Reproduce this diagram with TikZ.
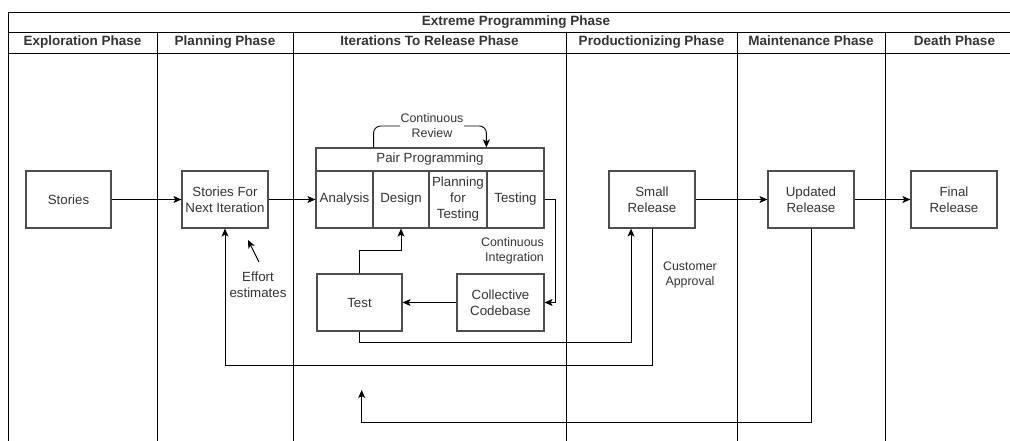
\documentclass[tikz,border=0pt]{standalone}
\usepackage{fontspec}
\setmainfont{Liberation Sans}
\usetikzlibrary{arrows.meta, calc}
\definecolor{txt}{HTML}{333333}
\definecolor{edge}{HTML}{4D4D4D}

\begin{document}
\begin{tikzpicture}[x=1pt, y=-1pt,
    box/.style={draw=edge, line width=1.2pt, text=txt, align=center, inner sep=1pt,
        font=\fontsize{13.3}{16}\selectfont},
    lbl/.style={text=txt, align=center, inner sep=1pt, font=\fontsize{12.4}{15}\selectfont},
    head/.style={text=txt, inner sep=1pt, text height=10pt, text depth=3pt,
        font=\bfseries\fontsize{13.5}{16}\selectfont},
    lane/.style={line width=0.9pt},
    arr/.style={-{Stealth[length=8pt,width=7pt,inset=2pt]}, line width=0.9pt}]
    \useasboundingbox (0,0) rectangle (1010,441);

    % Draw the lanes
    \draw[lane] (1010,12) -- (8,12) -- (8,441);
    \draw[lane] (8,32) -- (1010,32);
    \draw[lane] (8,53) -- (1010,53);
    \foreach \x in {157,293,566,737,885}
        \draw[lane] (\x,32) -- (\x,441);

    % Lane titles
    \node[head] (title) at (516,22) {Extreme Programming Phase};
    \foreach \x/\name/\txt in {82.5/hexplore/Exploration Phase, 225/hplan/Planning Phase,
        429.5/hiter/Iterations To Release Phase, 651.5/hprod/Productionizing Phase,
        811/hmaint/Maintenance Phase, 954.5/hdeath/Death Phase}
        \node[head] (\name) at (\x,42.5) {\txt};

    % Define the boxes
    \node[box, minimum width=85, minimum height=57] (stories) at (68.5,199.5) {Stories};
    \node[box, minimum width=86, minimum height=57] (next) at (225,199.5) {Stories For\\Next Iteration};
    \node[box, minimum width=86, minimum height=57] (small) at (652,199.5) {Small\\Release};
    \node[box, minimum width=86, minimum height=57] (updated) at (811,199.5) {Updated\\Release};
    \node[box, minimum width=86, minimum height=57] (final) at (954,199.5) {Final\\Release};
    \node[box, minimum width=85, minimum height=57] (test) at (359.5,302.5) {Test};
    \node[box, minimum width=87, minimum height=57] (collective) at (500.5,302.5) {Collective\\Codebase};

    % Pair programming table
    \node[box, minimum width=228, minimum height=23] (pair) at (430,159.5) {Pair Programming};
    \node[box, minimum width=57, minimum height=57] (analysis) at (344.5,199.5) {Analysis};
    \node[box, minimum width=56, minimum height=57] (design) at (401,199.5) {Design};
    \node[box, minimum width=58, minimum height=57] (plan) at (458,199.5) {Planning\\for\\Testing};
    \node[box, minimum width=57, minimum height=57] (testing) at (515.5,199.5) {Testing};

    % Draw the flow
    \draw[arr] (stories) -- (next);
    \draw[arr] (next) -- (analysis);
    \draw[arr] (small) -- (updated);
    \draw[arr] (updated) -- (final);
    \draw[arr] (collective) -- (test);
    \draw[arr] (test.north) -- ++(0,-23) -| (design.south);
    \draw[arr] (testing.east) -- ++(11,0) |- (collective.east);
    \draw[arr] (test.south) -- ++(0,11) -| ([xshift=-21pt]small.south);
    \draw[arr] (small.south) -- ++(0,137) -| (next.south);

    % Continuous review loop
    \draw[arr, rounded corners=7pt] (analysis.east |- pair.north) |- (432,126) -| (testing.west |- pair.north);
    \node[lbl, fill=white] (review) at (432,126) {Continuous\\Review};

    % Loose return from maintenance
    \coordinate (turn) at (361.7,422);
    \coordinate (loose) at (361.7,390);
    \draw[arr] (updated.south) |- (turn) -- (loose);

    % Labels
    \node[lbl, anchor=east, align=right] (integration) at (545,251) {Continuous\\Integration};
    \node[lbl] (approval) at (690,275) {Customer\\Approval};
    \node[box, draw=none] (effort) at (258,285) {Effort\\estimates};
    \coordinate (effortTail) at (259,262);
    \coordinate (effortTip) at (248,240);
    \draw[arr] (effortTail) -- (effortTip);

\end{tikzpicture}
\end{document}
